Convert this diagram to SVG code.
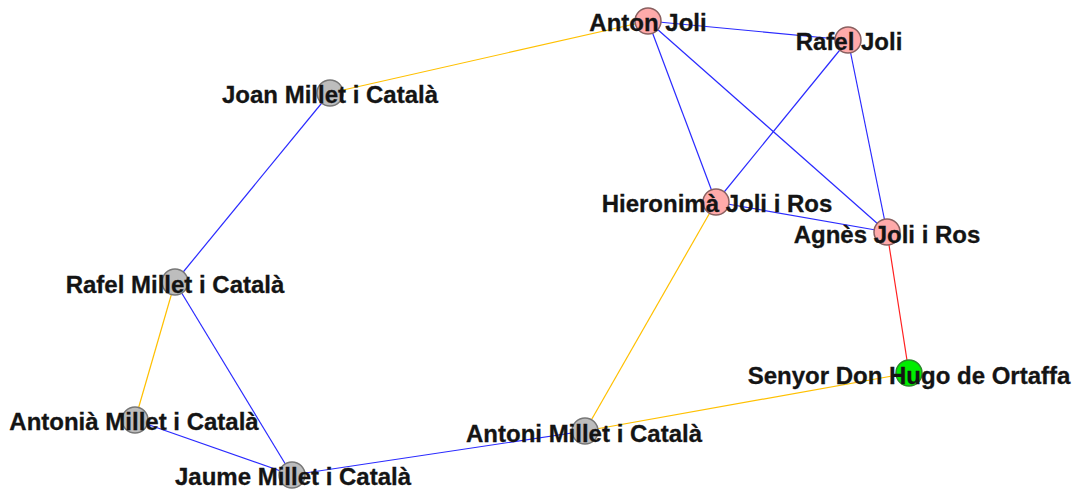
<svg xmlns="http://www.w3.org/2000/svg" width="1075" height="492" viewBox="0 0 1075 492">
<style>
.e{stroke-width:1.2;fill:none}
.b{stroke:#2a2aff}
.y{stroke:#ffc000}
.r{stroke:#ff2020}
.n circle{stroke-width:1.5}
.p circle{fill:#ffaaaa;stroke:#8a6060}
.g circle{fill:#bdbdbd;stroke:#777}
.h circle{fill:#00ee00;stroke:#2a8a2a}
text{font-family:"Liberation Sans",Arial,sans-serif;font-weight:bold;font-size:24px;fill:#141414;stroke:#141414;stroke-width:0.3;text-anchor:middle}
</style>
<rect width="1075" height="492" fill="#fff"/>
<g id="connectors">
<line class="e b" x1="648" y1="21" x2="848" y2="40"/>
<line class="e b" x1="648" y1="21" x2="716" y2="202"/>
<line class="e b" x1="648" y1="21" x2="887" y2="232"/>
<line class="e b" x1="848" y1="40" x2="716" y2="202"/>
<line class="e b" x1="848" y1="40" x2="887" y2="232"/>
<line class="e b" x1="716" y1="202" x2="887" y2="232"/>
<line class="e b" x1="330" y1="93" x2="175" y2="282"/>
<line class="e b" x1="175" y1="282" x2="292" y2="475"/>
<line class="e b" x1="135" y1="420" x2="292" y2="475"/>
<line class="e b" x1="292" y1="475" x2="585" y2="431"/>
<line class="e y" x1="648" y1="21" x2="330" y2="93"/>
<line class="e y" x1="175" y1="282" x2="135" y2="420"/>
<line class="e y" x1="716" y1="202" x2="585" y2="431"/>
<line class="e y" x1="585" y1="431" x2="909" y2="373"/>
<line class="e r" x1="887" y1="232" x2="909" y2="373"/>
</g>
<g id="n-anton-joli" class="n p"><circle cx="648" cy="21" r="13"/></g>
<g id="n-rafel-joli" class="n p"><circle cx="848" cy="40" r="13"/></g>
<g id="n-hieronima" class="n p"><circle cx="716" cy="202" r="13"/></g>
<g id="n-agnes" class="n p"><circle cx="887" cy="232" r="13"/></g>
<g id="n-joan" class="n g"><circle cx="330" cy="93" r="13"/></g>
<g id="n-rafel-millet" class="n g"><circle cx="175" cy="282" r="13"/></g>
<g id="n-antonia" class="n g"><circle cx="135" cy="420" r="13"/></g>
<g id="n-jaume" class="n g"><circle cx="292" cy="475" r="13"/></g>
<g id="n-antoni" class="n g"><circle cx="585" cy="431" r="13"/></g>
<g id="n-senyor" class="n h"><circle cx="909" cy="373" r="13"/></g>
<g id="labels">
<text x="648" y="31">Anton Joli</text>
<text x="849" y="50">Rafel Joli</text>
<text x="717" y="212">Hieronimà Joli i Ros</text>
<text x="887" y="243">Agnès Joli i Ros</text>
<text x="330" y="103">Joan Millet i Català</text>
<text x="175" y="293">Rafel Millet i Català</text>
<text x="134" y="430">Antonià Millet i Català</text>
<text x="293" y="485">Jaume Millet i Català</text>
<text x="584" y="442">Antoni Millet i Català</text>
<text x="909" y="384">Senyor Don Hugo de Ortaffa</text>
</g>
</svg>
